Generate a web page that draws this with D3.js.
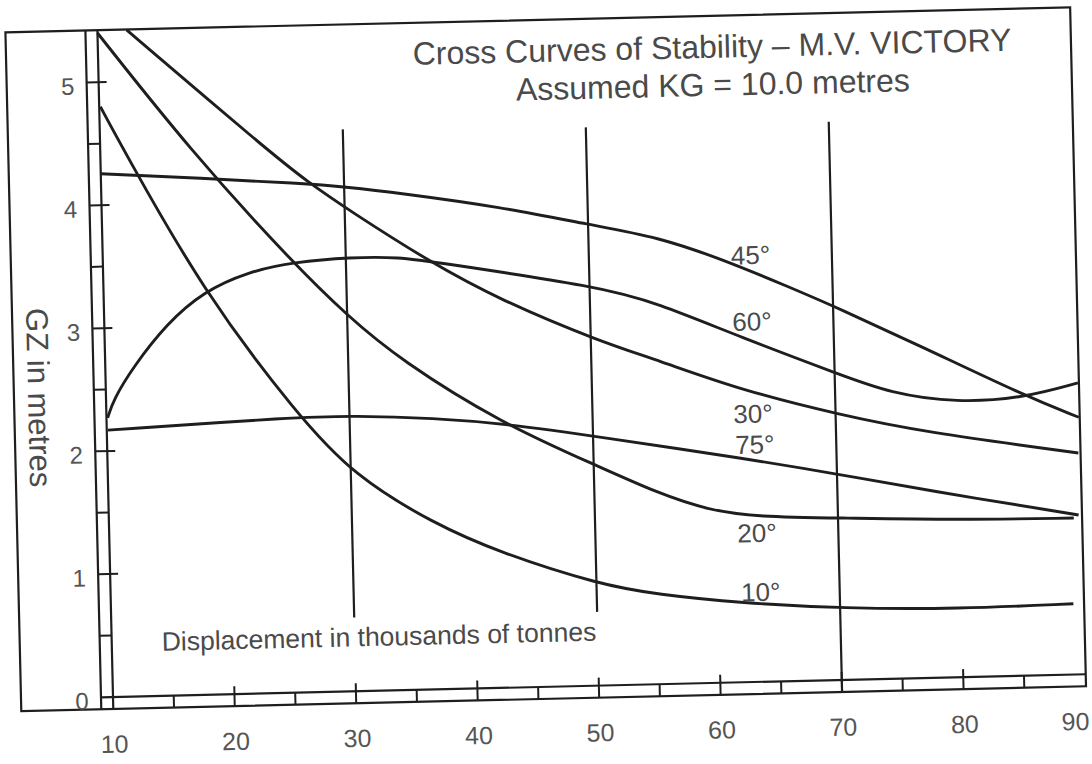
<!DOCTYPE html>
<html>
<head>
<meta charset="utf-8">
<script src="https://cdn.jsdelivr.net/npm/d3@7"></script>
<style>
  html, body { margin: 0; padding: 0; background: #fff; }
  svg { display: block; }
  text { font-family: "Liberation Sans", Arial, Helvetica, sans-serif; fill: #4a4a4a; }
</style>
</head>
<body>
<svg id="chart" width="1092" height="764"></svg>
<script>
// displacement (thousands of tonnes) / GZ (metres)
const xTicks = [10, 20, 30, 40, 50, 60, 70, 80, 90];
const xHalfTicks = [15, 25, 35, 45, 55, 65, 75, 85];
const yTicks = [0, 1, 2, 3, 4, 5];
const yHalfTicks = [0.5, 1.5, 2.5, 3.5, 4.5];

// vertical reference lines: displacement, gz from, gz to
const refLines = [[30, 0.6, 4.57], [50, 0.6, 4.54], [70, 0, 4.54]];

const angleNames = ["10°", "20°", "30°", "45°", "60°", "75°"];

const gz10 = [[10.1, 4.80], [11.9, 4.45], [18.2, 3.28], [25.7, 2.26], [30.3, 1.75], [36.7, 1.35],
  [42.1, 1.10], [50.3, 0.82], [55.0, 0.73], [61.8, 0.645], [70.4, 0.58], [79.6, 0.555], [89.2, 0.575]];
const gz20 = [[10.0, 5.40], [17.4, 4.43], [25.4, 3.52], [30.1, 3.045], [34.3, 2.685],
  [42.4, 2.155], [50.5, 1.777], [55.2, 1.555], [59.3, 1.407], [63.4, 1.341],
  [70.4, 1.316], [79.8, 1.279], [89.4, 1.272]];
const gz30 = [[12.4, 5.42], [23.7, 4.42], [27.0, 4.15], [30.3, 3.915], [36.9, 3.476], [42.6, 3.154],
  [50.8, 2.794], [55.4, 2.637], [62.2, 2.377], [70.4, 2.154], [77.2, 2.0], [89.9, 1.80]];
const gz45 = [[10.0, 4.255], [18.2, 4.20], [26.4, 4.14], [30.3, 4.10], [34.6, 4.04], [42.8, 3.91],
  [50.2, 3.746], [55.7, 3.636], [61.1, 3.437], [66.5, 3.20], [70.4, 3.024], [77.3, 2.69],
  [85.5, 2.28], [90.0, 2.09]];
const gz60 = [[10.1, 2.27], [10.6, 2.415], [12.3, 2.68], [15.2, 3.03], [18.2, 3.276], [21.9, 3.43],
  [25.7, 3.50], [30.4, 3.53], [34.5, 3.52], [37.2, 3.476], [50.9, 3.24], [55.5, 3.10], [62.3, 2.807],
  [70.5, 2.48], [74.5, 2.324], [80.0, 2.23], [85.5, 2.258], [90.0, 2.37]];
const gz75 = [[10.1, 2.17], [25.7, 2.24], [30.3, 2.24], [36.9, 2.207], [43.0, 2.145], [50.6, 2.02],
  [62.1, 1.824], [70.5, 1.666], [77.1, 1.53], [89.8, 1.296]];

// where each angle is written (displacement, gz)
const angleLabelAt = [[63.5, 0.73], [63.3, 1.21], [63.2, 2.18], [63.3, 3.47], [63.3, 2.93], [63.3, 1.93]];

const curves = [gz10, gz20, gz30, gz45, gz60, gz75];

function drawChart() {
  const svg = d3.select("#chart");
  // the plate was scanned slightly askew
  const g = svg.append("g").attr("transform", "rotate(-1.34 113 697)");

  const x = d3.scaleLinear().domain([10, 90]).range([113, 1085]);
  const y = d3.scaleLinear().domain([0, 5]).range([697, 82]);

  const ink = "#1e1e1e";
  const railW = 12;
  const frame = { left: 21, top: 30, right: x(90) + 1, bottom: y(0) + railW };

  // outer frame
  g.append("rect")
    .attr("x", frame.left).attr("y", frame.top)
    .attr("width", frame.right - frame.left).attr("height", frame.bottom - frame.top)
    .attr("fill", "none").attr("stroke", ink).attr("stroke-width", 2.2);

  // y rail
  [x(10) - railW, x(10)].forEach(px => {
    g.append("line").attr("x1", px).attr("x2", px).attr("y1", frame.top).attr("y2", frame.bottom)
      .attr("stroke", ink).attr("stroke-width", 2.2);
  });
  // x rail top line
  g.append("line").attr("x1", x(10) - railW).attr("x2", frame.right).attr("y1", y(0)).attr("y2", y(0))
    .attr("stroke", ink).attr("stroke-width", 2.2);

  g.selectAll(".yhalf").data(yHalfTicks).join("line")
    .attr("x1", x(10) - railW).attr("x2", x(10)).attr("y1", d => y(d)).attr("y2", d => y(d))
    .attr("stroke", ink).attr("stroke-width", 2);
  g.selectAll(".ymajor").data(yTicks.slice(1)).join("line")
    .attr("x1", x(10) - railW).attr("x2", x(10) + 8).attr("y1", d => y(d)).attr("y2", d => y(d))
    .attr("stroke", ink).attr("stroke-width", 2);

  g.selectAll(".xhalf").data(xHalfTicks).join("line")
    .attr("x1", d => x(d)).attr("x2", d => x(d)).attr("y1", y(0)).attr("y2", frame.bottom)
    .attr("stroke", ink).attr("stroke-width", 2);
  g.selectAll(".xmajor").data(xTicks.slice(1, -1)).join("line")
    .attr("x1", d => x(d)).attr("x2", d => x(d)).attr("y1", y(0) - 8).attr("y2", frame.bottom)
    .attr("stroke", ink).attr("stroke-width", 2);

  // reference verticals
  g.selectAll(".ref").data(refLines).join("line")
    .attr("x1", d => x(d[0])).attr("x2", d => x(d[0]))
    .attr("y1", d => y(d[2])).attr("y2", d => d[1] === 0 ? frame.bottom : y(d[1]))
    .attr("stroke", ink).attr("stroke-width", 2.2);

  // tick labels through d3 axes
  const xAxis = g.append("g").attr("transform", `translate(0, ${y(0)})`)
    .call(d3.axisBottom(x).tickValues(xTicks).tickSize(0).tickFormat(d3.format("d")));
  xAxis.select(".domain").remove();
  xAxis.attr("font-family", null).attr("font-size", null);
  xAxis.selectAll("text").attr("y", 47).attr("dy", "0.35em")
    .attr("font-size", 25).style("fill", "#555");
  // the last label sits inside the plate edge
  xAxis.selectAll("text").filter(d => d === 90).attr("text-anchor", "end").attr("x", 3);

  const yAxis = g.append("g").attr("transform", "translate(84, 3)")
    .call(d3.axisLeft(y).tickValues(yTicks).tickSize(0).tickFormat(d3.format("d")));
  yAxis.select(".domain").remove();
  yAxis.attr("font-family", null).attr("font-size", null);
  yAxis.selectAll("text").attr("x", -2).attr("dy", "0.35em").attr("text-anchor", "middle")
    .attr("font-size", 24).style("fill", "#555");

  // the GZ curves
  const line = d3.line().x(d => x(d[0])).y(d => y(d[1])).curve(d3.curveBasis);
  g.selectAll(".gz").data(curves).join("path")
    .attr("d", line).attr("fill", "none").attr("stroke", ink).attr("stroke-width", 2.9);

  g.selectAll(".angle").data(angleNames).join("text")
    .attr("x", (d, i) => x(angleLabelAt[i][0]))
    .attr("y", (d, i) => y(angleLabelAt[i][1]))
    .attr("dy", "0.35em").attr("text-anchor", "middle")
    .attr("font-size", 26).text(d => d);

  // titles
  g.append("text").attr("x", 727).attr("y", 72).attr("text-anchor", "middle")
    .attr("font-size", 32).text("Cross Curves of Stability – M.V. VICTORY");
  g.append("text").attr("x", 727).attr("y", 110).attr("text-anchor", "middle")
    .attr("font-size", 32).text("Assumed KG = 10.0 metres");

  g.append("text").attr("x", 163).attr("y", 652)
    .attr("font-size", 26.5).text("Displacement in thousands of tonnes");

  g.append("text").attr("transform", "translate(46, 396) rotate(90)")
    .attr("text-anchor", "middle").attr("dy", "0.35em")
    .attr("font-size", 31).text("GZ in metres");
}

drawChart();
</script>
</body>
</html>
